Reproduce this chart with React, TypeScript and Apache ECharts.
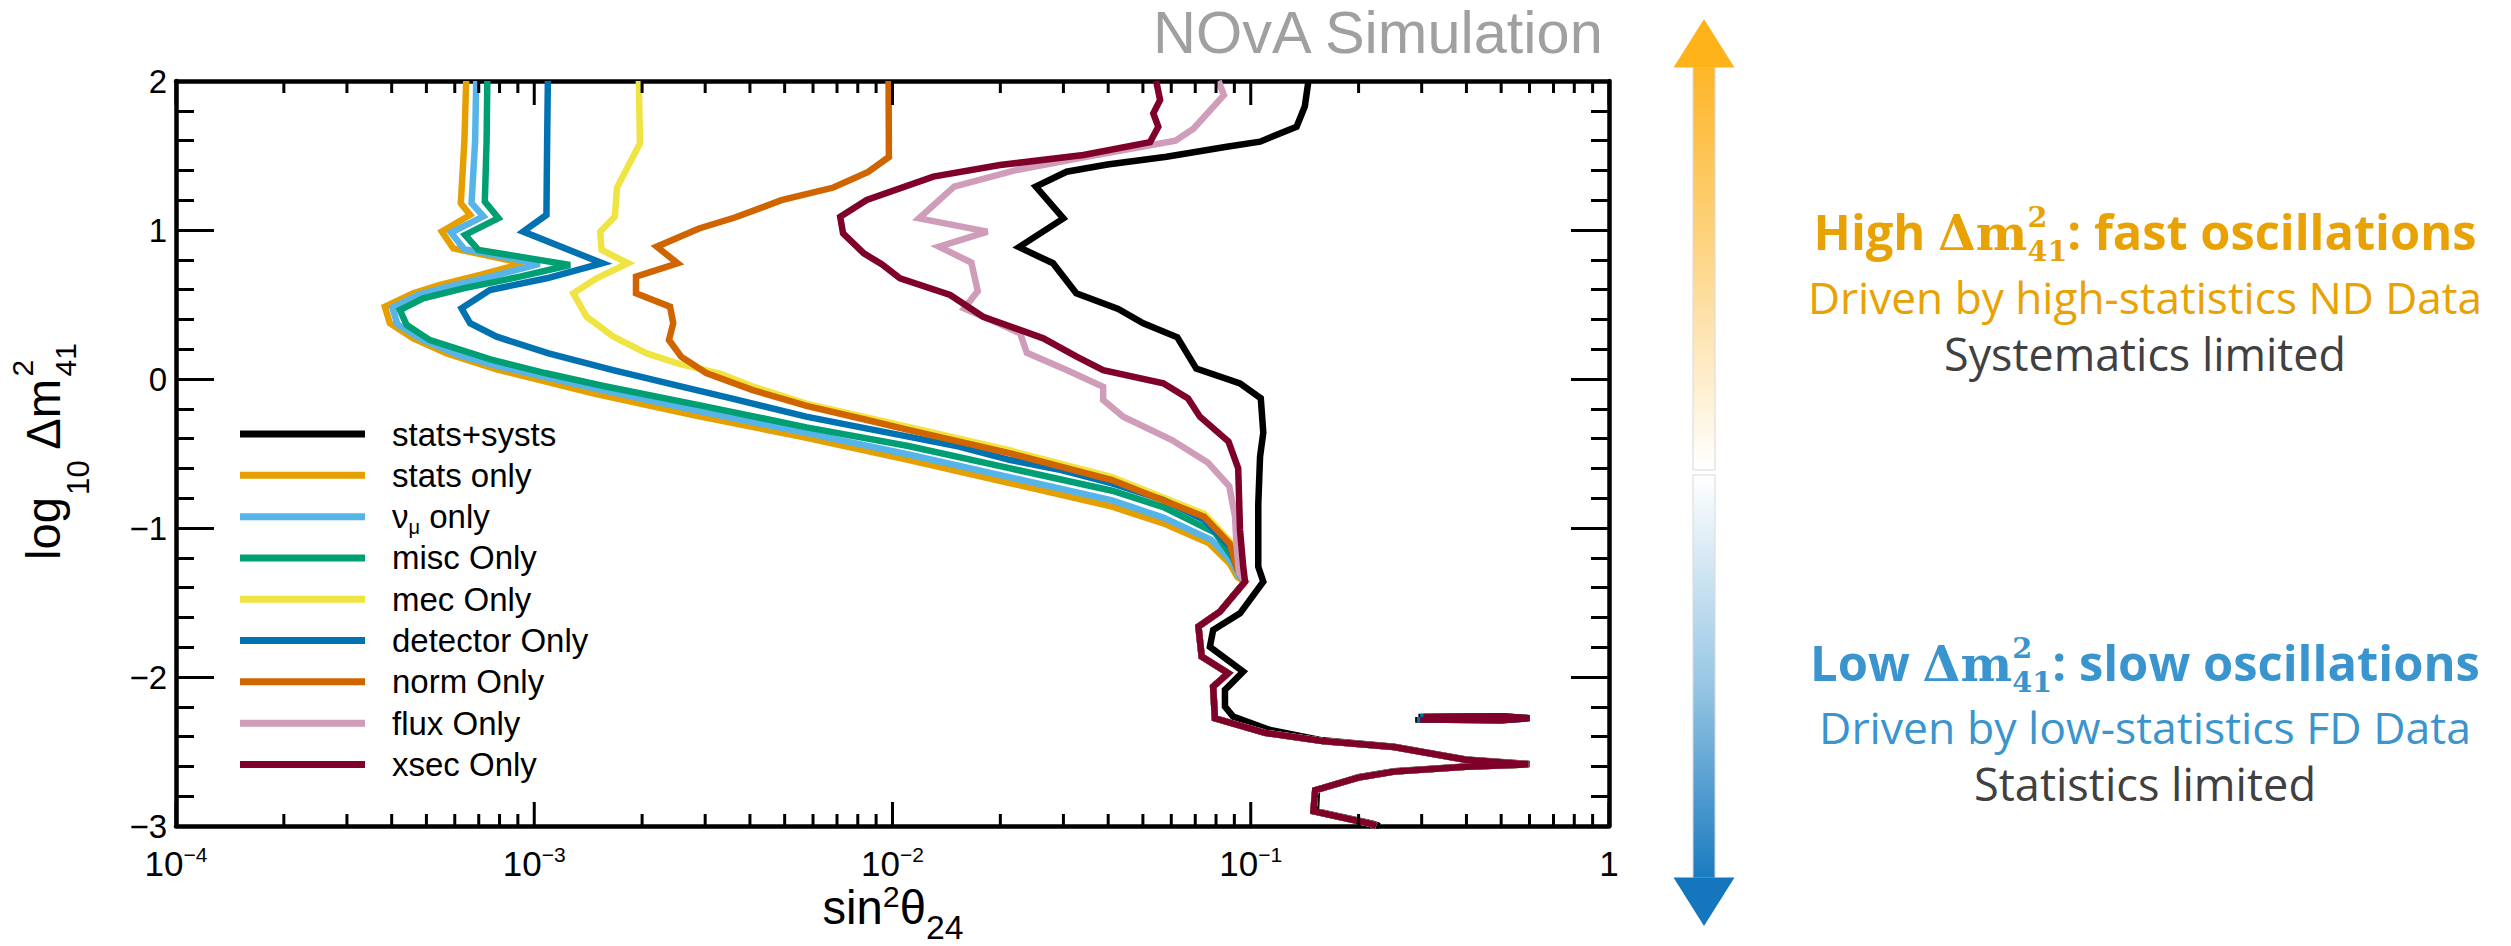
import React, { useEffect, useRef } from 'react';
import * as echarts from 'echarts';

// ---------- DATA : points are [log10(sin^2 theta24), log10(dm^2_41)] ----------
const statsSystsLog = [
  [-0.839, 2.0], [-0.849, 1.83], [-0.872, 1.693], [-0.974, 1.593], [-1.067, 1.559], [-1.235, 1.492],
  [-1.40, 1.44], [-1.514, 1.391], [-1.60, 1.291], [-1.523, 1.078], [-1.647, 0.885], [-1.552, 0.777],
  [-1.487, 0.575], [-1.37, 0.47], [-1.30, 0.374], [-1.205, 0.28], [-1.152, 0.07], [-1.03, -0.029],
  [-0.972, -0.13], [-0.965, -0.36], [-0.974, -0.52], [-0.979, -0.84], [-0.979, -1.26], [-0.965, -1.36],
  [-1.03, -1.573], [-1.105, -1.685], [-1.114, -1.797], [-1.021, -1.964], [-1.072, -2.087], [-1.072, -2.199],
  [-1.049, -2.266], [-0.946, -2.356], [-0.80, -2.425], [-0.60, -2.468], [-0.40, -2.553], [-0.222, -2.584],
  [-0.40, -2.600], [-0.60, -2.633], [-0.70, -2.673], [-0.815, -2.758], [-0.818, -2.90], [-0.66, -2.985],
  [-0.64, -3.0],
];
const statsSystsIsland = [[-0.532, -2.268], [-0.30, -2.264], [-0.222, -2.276], [-0.30, -2.29], [-0.532, -2.286], [-0.532, -2.268]];

const statsOnlyLog = [
  [-3.19, 2.0], [-3.195, 1.6], [-3.205, 1.18], [-3.179, 1.101], [-3.258, 0.989], [-3.226, 0.877],
  [-3.031, 0.777], [-3.151, 0.698], [-3.263, 0.631], [-3.338, 0.575], [-3.417, 0.485], [-3.403, 0.374],
  [-3.338, 0.273], [-3.244, 0.172], [-3.105, 0.065], [-2.83, -0.10], [-2.55, -0.245], [-2.25, -0.39],
  [-1.96, -0.54], [-1.67, -0.70], [-1.387, -0.857], [-1.244, -0.969], [-1.116, -1.103], [-1.059, -1.237],
  [-1.037, -1.33],
];
const numuOnlyLog = [
  [-3.162, 2.0], [-3.165, 1.6], [-3.175, 1.18], [-3.142, 1.092], [-3.232, 0.982], [-3.196, 0.872],
  [-2.985, 0.772], [-3.11, 0.694], [-3.238, 0.622], [-3.322, 0.566], [-3.396, 0.478], [-3.382, 0.368],
  [-3.316, 0.267], [-3.21, 0.16], [-3.10, 0.085], [-2.82, -0.07], [-2.54, -0.215], [-2.245, -0.36],
  [-1.958, -0.505], [-1.671, -0.66], [-1.387, -0.815], [-1.244, -0.93], [-1.11, -1.08], [-1.055, -1.22],
  [-1.033, -1.32],
];
const miscOnlyLog = [
  [-3.131, 2.0], [-3.133, 1.6], [-3.138, 1.19], [-3.10, 1.079], [-3.193, 0.967], [-3.156, 0.866],
  [-2.90, 0.765], [-3.04, 0.687], [-3.198, 0.608], [-3.31, 0.541], [-3.375, 0.463], [-3.356, 0.362],
  [-3.291, 0.261], [-3.12, 0.13], [-2.97, 0.04], [-2.81, -0.045], [-2.53, -0.18], [-2.24, -0.325],
  [-1.956, -0.45], [-1.671, -0.60], [-1.387, -0.75], [-1.244, -0.86], [-1.10, -1.03], [-1.05, -1.20],
  [-1.03, -1.31],
];
const mecOnlyLog = [
  [-2.708, 2.0], [-2.705, 1.58], [-2.74, 1.42], [-2.769, 1.285], [-2.775, 1.09], [-2.816, 0.989],
  [-2.812, 0.866], [-2.738, 0.777], [-2.826, 0.676], [-2.891, 0.575], [-2.854, 0.418], [-2.779, 0.284],
  [-2.686, 0.172], [-2.60, 0.105], [-2.48, 0.035], [-2.384, -0.055], [-2.241, -0.165], [-1.956, -0.322],
  [-1.671, -0.48], [-1.387, -0.658], [-1.13, -0.905], [-1.059, -1.085], [-1.037, -1.265],
];
const detectorOnlyLog = [
  [-2.962, 2.0], [-2.964, 1.6], [-2.966, 1.101], [-3.031, 0.989], [-2.81, 0.777], [-2.965, 0.676],
  [-3.124, 0.597], [-3.203, 0.474], [-3.179, 0.374], [-3.105, 0.284], [-2.96, 0.172], [-2.78, 0.06],
  [-2.60, -0.045], [-2.45, -0.13], [-2.241, -0.253], [-2.099, -0.32], [-1.956, -0.387], [-1.814, -0.454],
  [-1.671, -0.544], [-1.529, -0.611], [-1.387, -0.70], [-1.244, -0.812], [-1.13, -0.946], [-1.059, -1.125],
  [-1.035, -1.29],
];
const detectorIsland = [[-0.527, -2.268], [-0.30, -2.264], [-0.222, -2.276], [-0.30, -2.29], [-0.527, -2.286], [-0.527, -2.268]];
const normOnlyLog = [
  [-2.011, 2.0], [-2.01, 1.49], [-2.068, 1.39], [-2.165, 1.285], [-2.31, 1.20], [-2.44, 1.084],
  [-2.54, 1.01], [-2.658, 0.888], [-2.60, 0.777], [-2.716, 0.687], [-2.716, 0.575], [-2.621, 0.485],
  [-2.612, 0.374], [-2.624, 0.262], [-2.59, 0.15], [-2.52, 0.04], [-2.39, -0.075], [-2.24, -0.18],
  [-2.08, -0.27], [-1.956, -0.342], [-1.671, -0.499], [-1.387, -0.678], [-1.13, -0.924], [-1.059, -1.103],
  [-1.037, -1.282],
];
const fluxOnlyLog = [
  [-1.09, 2.0], [-1.075, 1.905], [-1.16, 1.68], [-1.21, 1.60], [-1.47, 1.487], [-1.653, 1.403],
  [-1.828, 1.291], [-1.926, 1.078], [-1.735, 0.989], [-1.87, 0.888], [-1.78, 0.782], [-1.762, 0.59],
  [-1.80, 0.474], [-1.72, 0.39], [-1.644, 0.307], [-1.625, 0.176], [-1.514, 0.06], [-1.412, -0.052],
  [-1.412, -0.141], [-1.356, -0.253], [-1.22, -0.41], [-1.12, -0.56], [-1.06, -0.72], [-1.044, -0.92],
  [-1.04, -1.10], [-1.033, -1.30],
];
const xsecOnlyLog = [
  [-1.264, 2.0], [-1.253, 1.872], [-1.272, 1.783], [-1.258, 1.693], [-1.281, 1.59], [-1.467, 1.503],
  [-1.70, 1.436], [-1.886, 1.358], [-2.072, 1.201], [-2.146, 1.089], [-2.138, 0.978], [-2.08, 0.843],
  [-2.03, 0.77], [-1.979, 0.676], [-1.839, 0.564], [-1.747, 0.418], [-1.579, 0.273], [-1.486, 0.15],
  [-1.412, 0.06], [-1.244, -0.029], [-1.175, -0.13], [-1.142, -0.253], [-1.062, -0.42], [-1.035, -0.60],
  [-1.03, -1.013], [-1.021, -1.26],
];
const xsecIsland = [[-0.518, -2.268], [-0.30, -2.264], [-0.222, -2.276], [-0.30, -2.29], [-0.518, -2.286], [-0.518, -2.268]];
// low-dm2 part shared by all single-systematic contours
const sharedTailLog = [
  [-1.016, -1.36], [-1.086, -1.561], [-1.146, -1.662], [-1.137, -1.863], [-1.063, -1.975], [-1.105, -2.065],
  [-1.10, -2.277], [-0.96, -2.375], [-0.80, -2.43], [-0.60, -2.47], [-0.40, -2.555], [-0.225, -2.586],
  [-0.40, -2.602], [-0.60, -2.635], [-0.70, -2.675], [-0.82, -2.76], [-0.825, -2.90], [-0.665, -2.985],
  [-0.65, -3.0],
];

const legendNames = ['stats+systs', 'stats only', 'νμ only', 'misc Only', 'mec Only', 'detector Only', 'norm Only', 'flux Only', 'xsec Only'];
const lineColors = ['#000000', '#E69F00', '#56B4E9', '#009E73', '#F0E442', '#0072B2', '#D06500', '#CF9DB9', '#7F0028'];

const xMajorTicks = [1e-4, 1e-3, 1e-2, 1e-1, 1];
const xMinorMantissas = [2, 3, 4, 5, 6, 7, 8, 9];
const xMinorDecades = [1e-4, 1e-3, 1e-2, 1e-1];

// ---------- style constants ----------
const PLOT_FONT = '"Liberation Sans", Arial, Helvetica, sans-serif';
const NOTE_FONT = '"Open Sans", "Noto Sans", sans-serif';
const MATH_FONT = '"DejaVu Serif", "Liberation Serif", serif';
const ORANGE_TXT = '#E9A203';
const BLUE_TXT = '#3A95CE';
const GRAY_TXT = '#404040';

let _ctx: CanvasRenderingContext2D | null = null;
function ctx2d() {
  if (!_ctx) _ctx = document.createElement('canvas').getContext('2d');
  return _ctx as CanvasRenderingContext2D;
}
function measureW(text: string, font: string) {
  const c = ctx2d();
  c.font = font;
  return c.measureText(text).width;
}
function centralOffset(font: string, size: number) {
  const c = ctx2d();
  c.font = font;
  const m: any = c.measureText('Hg');
  const a = m.fontBoundingBoxAscent;
  const d = m.fontBoundingBoxDescent;
  if (typeof a === 'number' && typeof d === 'number' && a > 0) return (a - d) / 2;
  return 0.35 * size;
}

type Piece = { t: string; size: number; family: string; weight?: string; dy?: number; stack?: boolean; gap?: number; fill?: string };

function layoutPieces(pieces: Piece[], k: number) {
  let x = 0, lastStart = 0, lastW = 0;
  const out: any[] = [];
  for (const p of pieces) {
    const size = p.size * k;
    const font = `${p.weight || 'normal'} ${size.toFixed(2)}px ${p.family}`;
    const w = measureW(p.t, font);
    let px: number;
    if (p.stack) {
      px = lastStart;
      const adv = Math.max(lastW, w);
      x = lastStart + adv;
      lastW = adv;
    } else {
      x += (p.gap || 0) * k;
      px = x;
      lastStart = x;
      lastW = w;
      x += w;
    }
    out.push({ p, size, font, x: px, dy: (p.dy || 0) * k });
  }
  return { out, width: x };
}

function mathGroup(pieces: Piece[], o: { x: number; y: number; align: string; width?: number; rotation?: number; fill: string }) {
  let k = 1;
  if (o.width) k = o.width / layoutPieces(pieces, 1).width;
  const { out, width } = layoutPieces(pieces, k);
  const start = o.align === 'center' ? -width / 2 : o.align === 'right' ? -width : 0;
  return {
    type: 'group',
    x: o.x,
    y: o.y,
    rotation: o.rotation || 0,
    silent: true,
    children: out.map((it: any) => ({
      type: 'text',
      x: start + it.x,
      y: it.dy - centralOffset(it.font, it.size),
      silent: true,
      style: {
        text: it.p.t, font: it.font, fill: it.p.fill || o.fill, align: 'left', verticalAlign: 'middle',
        lineHeight: Math.round(it.size * 0.9),
      },
    })),
  };
}

const toPts = (arr: number[][]) => arr.map(([u, v]) => [Math.pow(10, u), v]);

function buildOption() {
  const mains = [
    statsSystsLog,
    statsOnlyLog.concat(sharedTailLog),
    numuOnlyLog.concat(sharedTailLog),
    miscOnlyLog.concat(sharedTailLog),
    mecOnlyLog.concat(sharedTailLog),
    detectorOnlyLog.concat(sharedTailLog),
    normOnlyLog.concat(sharedTailLog),
    fluxOnlyLog.concat(sharedTailLog),
    xsecOnlyLog.concat(sharedTailLog),
  ];
  const islands: Record<number, number[][]> = { 0: statsSystsIsland, 5: detectorIsland, 8: xsecIsland };

  const lineSeries: any[] = [];
  mains.forEach((d, i) => {
    const base = {
      type: 'line',
      xAxisIndex: 0,
      yAxisIndex: 0,
      showSymbol: false,
      symbol: 'none',
      silent: true,
      animation: false,
      clip: true,
      color: lineColors[i],
      itemStyle: { color: lineColors[i] },
      lineStyle: { color: lineColors[i], width: 6.5, join: 'miter', miterLimit: 4 },
      emphasis: { disabled: true },
    };
    lineSeries.push({ ...base, name: legendNames[i], data: toPts(d) });
    if (islands[i]) lineSeries.push({ ...base, name: legendNames[i] + ' island', data: toPts(islands[i]) });
  });

  const tickData: number[][] = [];
  xMajorTicks.forEach((v) => { tickData.push([v, 0, 1]); tickData.push([v, 1, 1]); });
  xMinorDecades.forEach((dec) => xMinorMantissas.forEach((m) => {
    const v = m * dec;
    tickData.push([v, 0, 0]);
    tickData.push([v, 1, 0]);
  }));

  const tickSeries = {
    type: 'custom',
    name: 'xticks',
    xAxisIndex: 0,
    yAxisIndex: 0,
    silent: true,
    z: 10,
    data: tickData,
    renderItem: (params: any, api: any) => {
      const v = api.value(0);
      const side = api.value(1);
      const major = api.value(2);
      const p = api.coord([v, side ? 2 : -3]);
      const len = major ? 24 : 12;
      return {
        type: 'line',
        shape: { x1: p[0], y1: p[1], x2: p[0], y2: side ? p[1] + len : p[1] - len },
        style: { stroke: '#000', lineWidth: 3 },
      };
    },
  };

  const axisLineStyle = { show: true, onZero: false, lineStyle: { color: '#000', width: 4.5 } };
  const yAxisBase = {
    type: 'value',
    min: -3,
    max: 2,
    interval: 1,
    axisLine: axisLineStyle,
    axisTick: { show: true, inside: true, length: 38, lineStyle: { color: '#000', width: 3 } },
    minorTick: { show: true, splitNumber: 5, length: 18, lineStyle: { color: '#000', width: 3 } },
    splitLine: { show: false },
    minorSplitLine: { show: false },
  };

  const graphics: any[] = [];
  // title
  graphics.push(mathGroup([{ t: 'NOvA Simulation', size: 57, family: PLOT_FONT }], { x: 1606, y: 53, align: 'right', width: 453, fill: '#A0A0A0' }));
  // axis names
  graphics.push(mathGroup([
    { t: 'sin', size: 42, family: PLOT_FONT },
    { t: '2', size: 27, family: PLOT_FONT, dy: -15 },
    { t: 'θ', size: 42, family: PLOT_FONT },
    { t: '24', size: 30, family: PLOT_FONT, dy: 13 },
  ], { x: 893, y: 924, align: 'center', width: 141, fill: '#000' }));
  graphics.push(mathGroup([
    { t: 'log', size: 44, family: PLOT_FONT },
    { t: '10', size: 29, family: PLOT_FONT, dy: 27, gap: 2 },
    { t: ' Δm', size: 44, family: PLOT_FONT },
    { t: '2', size: 28, family: PLOT_FONT, dy: -25 },
    { t: '41', size: 28, family: PLOT_FONT, dy: 15, stack: true },
  ], { x: 60, y: 451.5, align: 'center', width: 217, rotation: Math.PI / 2, fill: '#000' }));

  // right-hand arrows
  graphics.push({
    type: 'rect', silent: true,
    shape: { x: 1693, y: 67, width: 22, height: 403 },
    style: { fill: new echarts.graphic.LinearGradient(0, 0, 0, 1, [{ offset: 0, color: '#FDB628' }, { offset: 0.5, color: '#FDD88E' }, { offset: 1, color: '#FFFFFF' }]), stroke: '#D8D8D8', lineWidth: 1 },
  });
  graphics.push({ type: 'polygon', silent: true, shape: { points: [[1704, 19], [1734.5, 67.5], [1673.5, 67.5]] }, style: { fill: '#FFB31B' } });
  graphics.push({
    type: 'rect', silent: true,
    shape: { x: 1693, y: 475, width: 22, height: 403 },
    style: { fill: new echarts.graphic.LinearGradient(0, 0, 0, 1, [{ offset: 0, color: '#FFFFFF' }, { offset: 0.5, color: '#9CC9E5' }, { offset: 1, color: '#1A7BC0' }]), stroke: '#D8D8D8', lineWidth: 1 },
  });
  graphics.push({ type: 'polygon', silent: true, shape: { points: [[1673.5, 877.5], [1734.5, 877.5], [1704, 926]] }, style: { fill: '#1576BD' } });

  // right-hand notes
  const headPieces = (word: string, rest: string, fill: string): Piece[] => [
    { t: word + ' ', size: 46, family: NOTE_FONT, weight: 'bold', fill },
    { t: 'Δm', size: 46, family: MATH_FONT, weight: 'bold', fill },
    { t: '2', size: 27, family: MATH_FONT, weight: 'bold', dy: -22, fill },
    { t: '41', size: 27, family: MATH_FONT, weight: 'bold', dy: 10, stack: true, fill },
    { t: rest, size: 46, family: NOTE_FONT, weight: 'bold', fill },
  ];
  graphics.push(mathGroup(headPieces('High', ': fast oscillations', ORANGE_TXT), { x: 2145, y: 250, align: 'center', width: 663, fill: ORANGE_TXT }));
  graphics.push(mathGroup([{ t: 'Driven by high-statistics ND Data', size: 42, family: NOTE_FONT }], { x: 2145, y: 314, align: 'center', width: 674, fill: ORANGE_TXT }));
  graphics.push(mathGroup([{ t: 'Systematics limited', size: 42, family: NOTE_FONT }], { x: 2145, y: 371, align: 'center', width: 402, fill: GRAY_TXT }));
  graphics.push(mathGroup(headPieces('Low', ': slow oscillations', BLUE_TXT), { x: 2145, y: 681, align: 'center', width: 670, fill: BLUE_TXT }));
  graphics.push(mathGroup([{ t: 'Driven by low-statistics FD Data', size: 42, family: NOTE_FONT }], { x: 2145, y: 744, align: 'center', width: 652, fill: BLUE_TXT }));
  graphics.push(mathGroup([{ t: 'Statistics limited', size: 42, family: NOTE_FONT }], { x: 2145, y: 801, align: 'center', width: 342, fill: GRAY_TXT }));

  return {
    animation: false,
    backgroundColor: '#ffffff',
    grid: { left: 176, right: 902, top: 81, bottom: 120, containLabel: false, outerBoundsMode: 'none' },
    xAxis: [
      {
        type: 'log', logBase: 10, min: 1e-4, max: 1, position: 'bottom',
        axisLine: axisLineStyle, axisTick: { show: false }, minorTick: { show: false }, splitLine: { show: false },
        axisLabel: {
          show: true, margin: 18, color: '#000', showMinLabel: true, showMaxLabel: true,
          formatter: (v: number) => {
            const e = Math.round(Math.log10(v));
            if (e === 0) return '{b|1}';
            return '{b|10}{s|' + (e < 0 ? '\u2212' + -e : String(e)) + '}';
          },
          rich: {
            b: { fontFamily: PLOT_FONT, fontSize: 35, lineHeight: 38, color: '#000' },
            s: { fontFamily: PLOT_FONT, fontSize: 21, lineHeight: 12, verticalAlign: 'top', color: '#000' },
          },
        },
      },
      {
        type: 'log', logBase: 10, min: 1e-4, max: 1, position: 'top',
        axisLine: axisLineStyle, axisTick: { show: false }, minorTick: { show: false }, splitLine: { show: false },
        axisLabel: { show: false },
      },
    ],
    yAxis: [
      {
        ...yAxisBase, position: 'left',
        axisLabel: {
          show: true, margin: 9, color: '#000', fontFamily: PLOT_FONT, fontSize: 33, showMinLabel: true, showMaxLabel: true,
          formatter: (v: number) => (v < 0 ? '\u2212' + Math.abs(v) : String(v)),
        },
      },
      { ...yAxisBase, position: 'right', axisLabel: { show: false } },
    ],
    legend: {
      data: legendNames,
      orient: 'vertical',
      left: 240,
      top: 413.4,
      padding: 0,
      itemGap: 0,
      itemWidth: 125,
      itemHeight: 7,
      icon: 'rect',
      selectedMode: false,
      textStyle: {
        fontFamily: PLOT_FONT, fontSize: 33, color: '#000', lineHeight: 41.3, padding: [0, 0, 0, 22],
        rich: {
          t: { fontFamily: PLOT_FONT, fontSize: 33, lineHeight: 41.3, color: '#000' },
          s: { fontFamily: PLOT_FONT, fontSize: 20, lineHeight: 16, verticalAlign: 'bottom', color: '#000' },
        },
      },
      formatter: (name: string) => (name === 'νμ only' ? '{t|ν}{s|μ}{t| only}' : name),
    },
    series: [...lineSeries, tickSeries],
    graphic: { elements: graphics },
  };
}

export default function App() {
  const ref = useRef<HTMLDivElement>(null);
  useEffect(() => {
    document.body.style.margin = '0';
    if (!ref.current) return;
    const chart = echarts.init(ref.current, null, { renderer: 'svg', width: 2511, height: 946 });
    chart.setOption(buildOption() as any);
    return () => chart.dispose();
  }, []);
  return <div ref={ref} style={{ position: 'fixed', left: 0, top: 0, width: 2511, height: 946, background: '#fff' }} />;
}
